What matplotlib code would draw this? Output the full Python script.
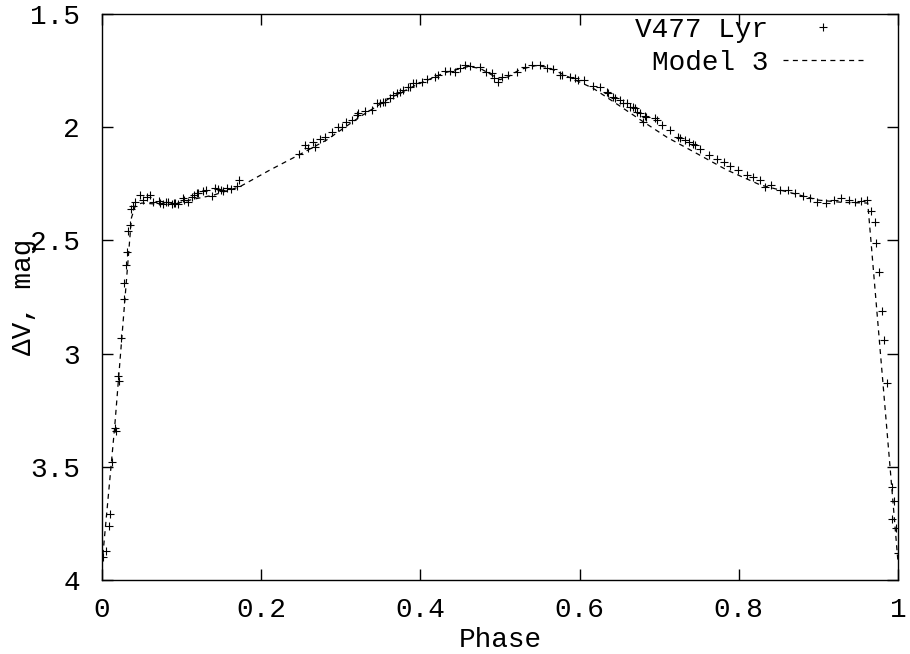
import matplotlib
matplotlib.use('Agg')
import matplotlib.pyplot as plt

# observed light curve of V477 Lyr (phase, delta V)
phase = [0.0016, 0.005, 0.009, 0.010, 0.013, 0.016, 0.017, 0.020, 0.021, 0.0235,
         0.027, 0.028, 0.030, 0.031, 0.033, 0.035, 0.037, 0.039, 0.041, 0.048,
         0.052, 0.056, 0.060, 0.064, 0.071, 0.073, 0.077, 0.081, 0.083, 0.088,
         0.090, 0.092, 0.096, 0.102, 0.103, 0.108, 0.113, 0.115, 0.119, 0.121,
         0.127, 0.131, 0.138, 0.142, 0.146, 0.150, 0.152, 0.157, 0.162, 0.169,
         0.1725,
         0.247, 0.255, 0.259, 0.2655, 0.2676, 0.274, 0.280, 0.289, 0.297, 0.301,
         0.307, 0.314, 0.320, 0.322, 0.331, 0.339, 0.345, 0.349, 0.353, 0.356,
         0.362, 0.366, 0.370, 0.374, 0.3785, 0.385, 0.387, 0.391, 0.395, 0.402,
         0.408, 0.418, 0.422, 0.431, 0.437, 0.443, 0.450, 0.456, 0.462, 0.475,
         0.483, 0.490, 0.492, 0.498, 0.502, 0.510, 0.521, 0.531, 0.540, 0.550,
         0.559, 0.567, 0.575, 0.578, 0.588, 0.594, 0.598, 0.605, 0.617, 0.626,
         0.634, 0.636, 0.642, 0.644, 0.651, 0.655, 0.659, 0.663, 0.667, 0.670,
         0.672, 0.676, 0.680, 0.682, 0.684, 0.695, 0.697, 0.703, 0.714, 0.724,
         0.726, 0.732, 0.737, 0.743, 0.745, 0.751, 0.762, 0.772, 0.781, 0.789,
         0.799, 0.810, 0.818, 0.827, 0.833, 0.841, 0.852, 0.862, 0.871, 0.881,
         0.889, 0.898, 0.910, 0.919, 0.929, 0.938, 0.946, 0.954, 0.961, 0.966,
         0.971, 0.973, 0.976, 0.9795, 0.982, 0.986, 0.992, 0.993, 0.995, 0.9975,
         1.0]
dmag = [3.90, 3.87, 3.76, 3.71, 3.48, 3.33, 3.34, 3.10, 3.12, 2.93,
        2.76, 2.69, 2.61, 2.55, 2.46, 2.43, 2.36, 2.35, 2.33, 2.30,
        2.32, 2.31, 2.30, 2.33, 2.325, 2.336, 2.34, 2.329, 2.33, 2.34,
        2.335, 2.333, 2.34, 2.314, 2.32, 2.329, 2.31, 2.299, 2.29, 2.292,
        2.28, 2.277, 2.304, 2.269, 2.275, 2.277, 2.28, 2.269, 2.275, 2.259,
        2.233,
        2.118, 2.079, 2.094, 2.064, 2.086, 2.053, 2.042, 2.020, 1.997, 1.997,
        1.975, 1.968, 1.946, 1.938, 1.930, 1.924, 1.894, 1.894, 1.887, 1.887,
        1.872, 1.858, 1.850, 1.843, 1.836, 1.821, 1.821, 1.806, 1.806, 1.799,
        1.788, 1.777, 1.769, 1.750, 1.750, 1.755, 1.740, 1.725, 1.730, 1.735,
        1.755, 1.762, 1.784, 1.799, 1.777, 1.769, 1.755, 1.733, 1.725, 1.725,
        1.740, 1.744, 1.769, 1.769, 1.777, 1.784, 1.792, 1.790, 1.820, 1.821,
        1.843, 1.850, 1.865, 1.872, 1.880, 1.892, 1.894, 1.909, 1.909, 1.917,
        1.932, 1.939, 1.976, 1.951, 1.954, 1.961, 1.968, 1.990, 2.012, 2.045,
        2.049, 2.057, 2.064, 2.074, 2.079, 2.098, 2.123, 2.142, 2.152, 2.171,
        2.189, 2.211, 2.221, 2.233, 2.263, 2.255, 2.277, 2.277, 2.292, 2.304,
        2.314, 2.329, 2.333, 2.322, 2.314, 2.322, 2.329, 2.325, 2.322, 2.37,
        2.42, 2.51, 2.64, 2.81, 2.94, 3.13, 3.59, 3.73, 3.65, 3.77,
        3.88]

# model 3 curve
model_phase = [0.0, 0.016, 0.037, 0.042, 0.05, 0.07, 0.09, 0.115, 0.14, 0.173,
               0.211, 0.247, 0.282, 0.324, 0.36, 0.395, 0.43, 0.46, 0.475, 0.49,
               0.5, 0.51, 0.525, 0.545, 0.56, 0.58, 0.617, 0.65, 0.68, 0.71,
               0.743, 0.785, 0.827, 0.868, 0.9, 0.93, 0.962, 0.99, 1.0]
model_mag = [3.93, 3.32, 2.40, 2.345, 2.335, 2.34, 2.34, 2.318, 2.30, 2.263,
             2.189, 2.123, 2.057, 1.954, 1.875, 1.813, 1.76, 1.732, 1.74, 1.77,
             1.79, 1.778, 1.745, 1.728, 1.735, 1.768, 1.828, 1.905, 1.976, 2.045,
             2.108, 2.189, 2.255, 2.292, 2.322, 2.332, 2.335, 3.50, 3.92]

xticks = [0, 0.2, 0.4, 0.6, 0.8, 1]
xticklabels = ['0', '0.2', '0.4', '0.6', '0.8', '1']
yticks = [1.5, 2, 2.5, 3, 3.5, 4]
yticklabels = ['1.5', '2', '2.5', '3', '3.5', '4']

plt.rcParams['font.family'] = ['Liberation Mono', 'DejaVu Sans Mono']

fig = plt.figure(figsize=(9.1, 6.54), dpi=100)
ax = fig.add_axes([0.1121, 0.1131, 0.8747, 0.8655])

ax.plot(phase, dmag, '+', color='black', markersize=6, markeredgewidth=0.8,
        label='V477 Lyr')
ax.plot(model_phase, model_mag, color='black', linewidth=0.9,
        linestyle=(0, (4, 3.5)), label='Model 3')

ax.set_xlim(0, 1)
ax.set_ylim(4, 1.5)
ax.set_xticks(xticks)
ax.set_xticklabels(xticklabels)
ax.set_yticks(yticks)
ax.set_yticklabels(yticklabels)
ax.tick_params(direction='in', length=8, width=1, top=True, right=True,
               labelsize=20, colors='black')
ax.tick_params(axis='x', pad=12)
ax.tick_params(axis='y', pad=16)
for s in ax.spines.values():
    s.set_linewidth(1)

ax.set_xlabel('Phase', fontsize=20, labelpad=3)
ax.set_ylabel('ΔV, mag', fontsize=20)
ax.yaxis.set_label_coords(-0.082, 0.5)

ax.legend(loc='upper right', bbox_to_anchor=(0.957, 0.995), frameon=False,
          markerfirst=False, fontsize=20, handlelength=2.9, handletextpad=0.55,
          borderaxespad=0, borderpad=0, labelspacing=0.25)

fig.savefig('out.png', dpi=100)
